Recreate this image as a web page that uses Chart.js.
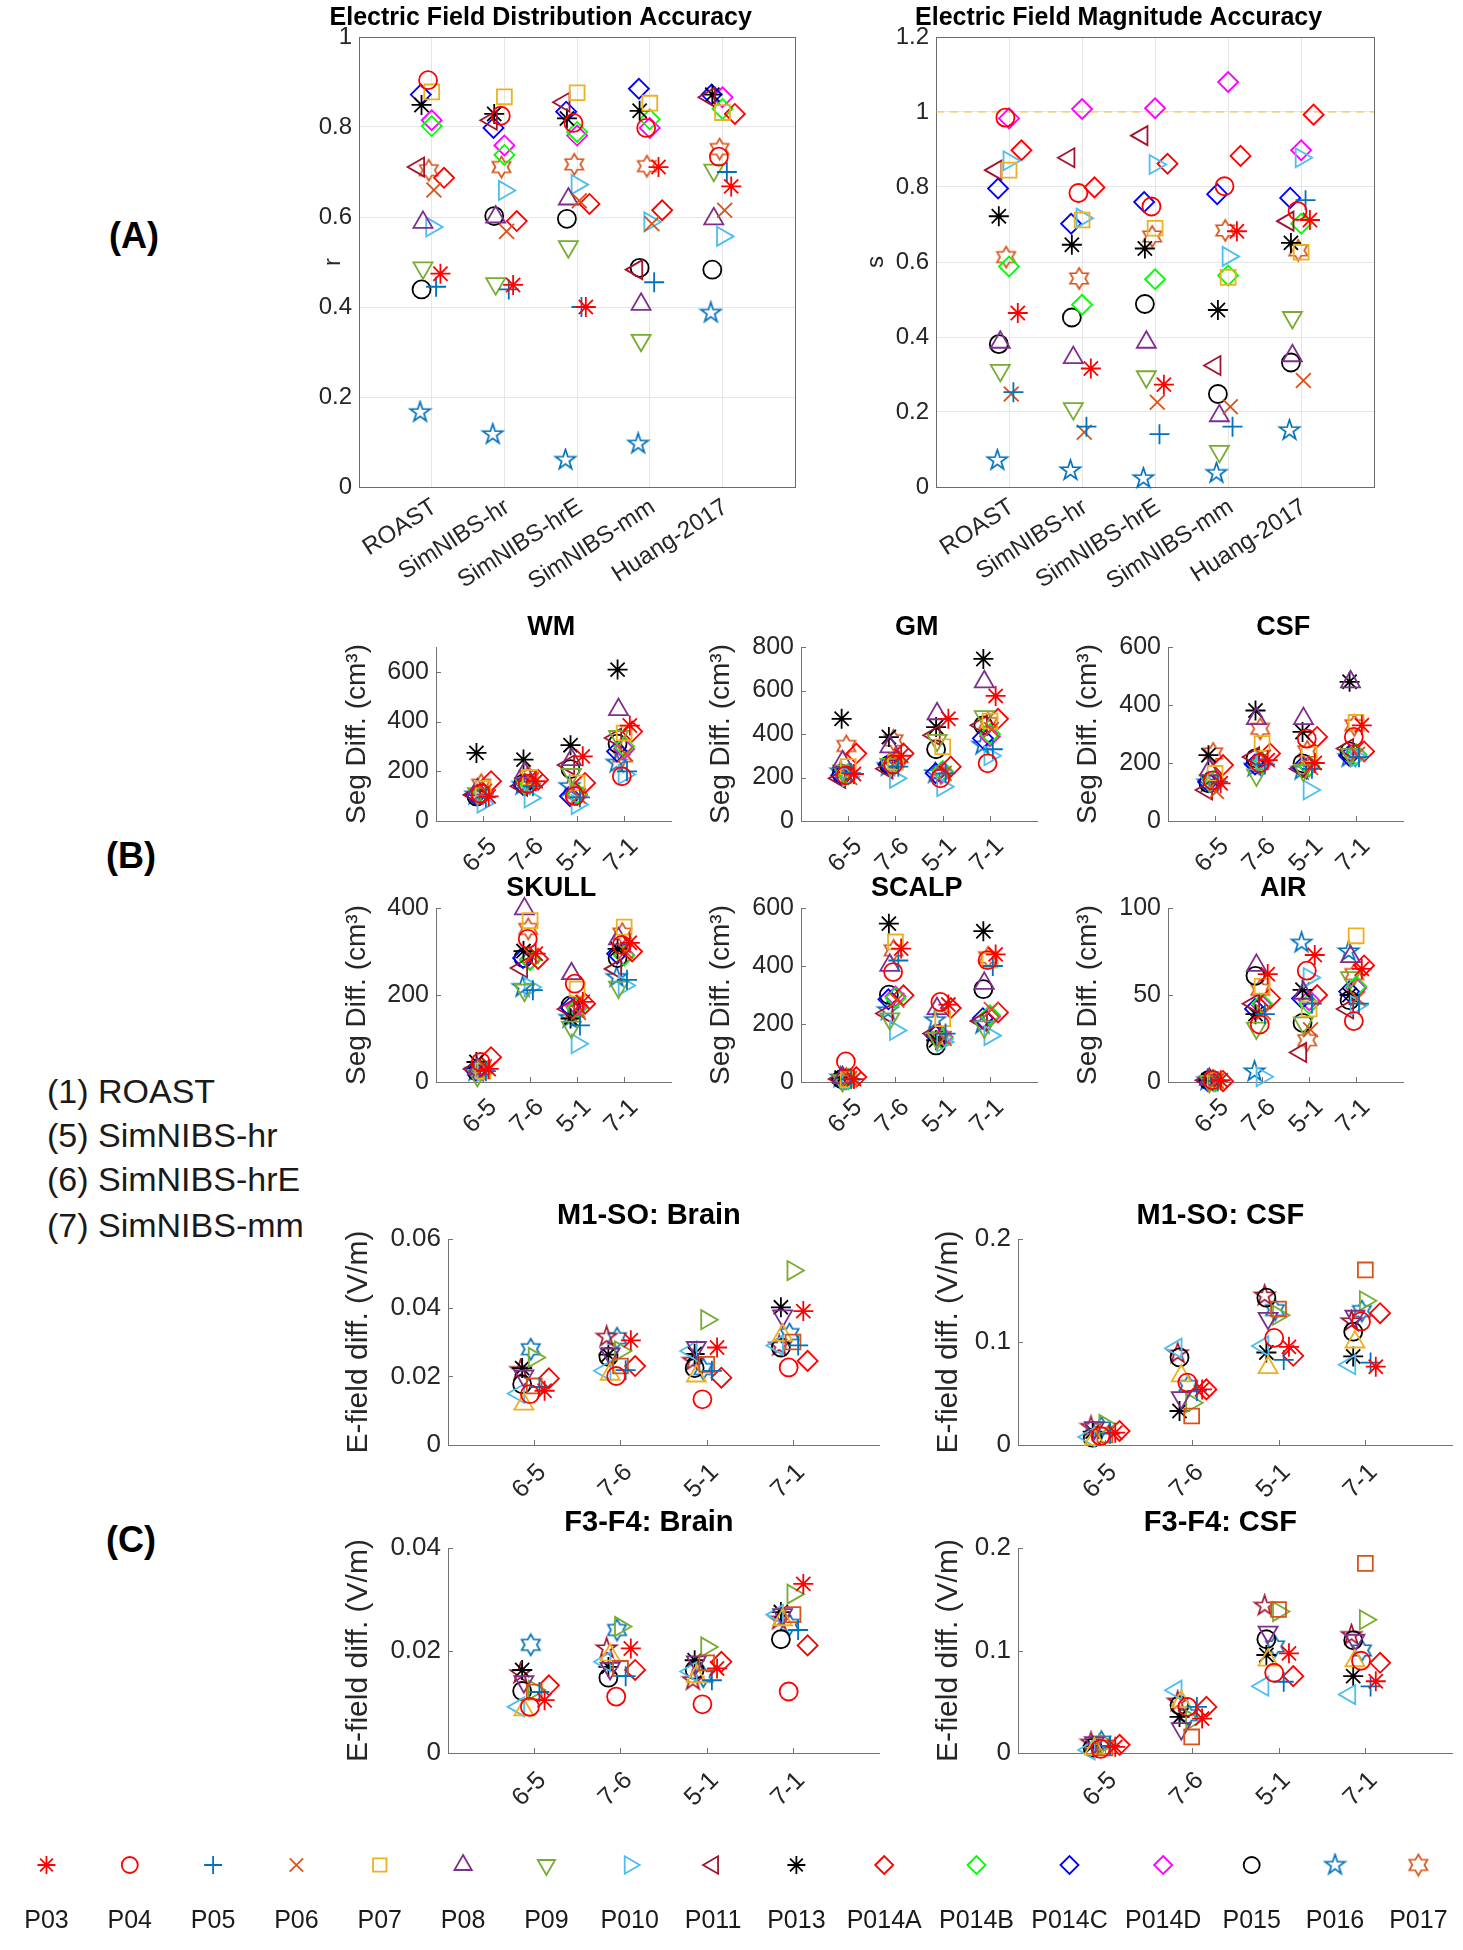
<!DOCTYPE html>
<html>
<head>
<meta charset="utf-8">
<script src="https://cdn.jsdelivr.net/npm/chart.js@4.4.0/dist/chart.umd.min.js"></script>
<style>
html, body { margin: 0; padding: 0; background: #fff; }
body { width: 1463px; height: 1950px; position: relative; overflow: hidden; font-family: 'Liberation Sans', Arial, sans-serif; }
canvas { position: absolute; }
.lbl { position: absolute; color: #000; white-space: nowrap; transform: translate(-50%, -50%); }
.note { position: absolute; color: #1a1a1a; white-space: nowrap; font-size: 34px; transform: translateY(-50%); }
</style>
</head>
<body>
<div class="lbl" style="left:134px;top:236px;font-size:36px;font-weight:bold">(A)</div>
<div class="lbl" style="left:131px;top:856px;font-size:36px;font-weight:bold">(B)</div>
<div class="lbl" style="left:131px;top:1540px;font-size:36px;font-weight:bold">(C)</div>
<div class="note" style="left:47px;top:1091px">(1) ROAST</div>
<div class="note" style="left:47px;top:1135px">(5) SimNIBS-hr</div>
<div class="note" style="left:47px;top:1179px">(6) SimNIBS-hrE</div>
<div class="note" style="left:47px;top:1225px">(7) SimNIBS-mm</div>
<script>
// ---- data ----
const participants = ['P03', 'P04', 'P05', 'P06', 'P07', 'P08', 'P09', 'P010', 'P011', 'P013', 'P014A', 'P014B', 'P014C', 'P014D', 'P015', 'P016', 'P017'];
const toolboxes = ['ROAST', 'SimNIBS-hr', 'SimNIBS-hrE', 'SimNIBS-mm', 'Huang-2017'];
const pairs = ['6-5', '7-6', '5-1', '7-1'];

// (A) correlation r, one row per participant, one value per toolbox
const rValues = [
    [0.474, 0.449, 0.400, 0.711, 0.668],
    [0.904, 0.825, 0.809, 0.798, 0.734],
    [0.445, 0.439, 0.400, 0.455, 0.700],
    [0.660, 0.568, 0.636, 0.585, 0.615],
    [0.878, 0.867, 0.876, 0.853, 0.832],
    [0.588, 0.600, 0.640, 0.406, 0.596],
    [0.487, 0.452, 0.534, 0.326, 0.704],
    [0.578, 0.659, 0.672, 0.589, 0.557],
    [0.711, 0.815, 0.855, 0.483, 0.866],
    [0.849, 0.829, 0.819, 0.836, 0.872],
    [0.687, 0.591, 0.629, 0.615, 0.829],
    [0.802, 0.738, 0.789, 0.817, 0.840],
    [0.872, 0.798, 0.834, 0.885, 0.872],
    [0.815, 0.759, 0.781, 0.798, 0.866],
    [0.439, 0.602, 0.596, 0.487, 0.483],
    [0.166, 0.117, 0.060, 0.096, 0.387],
    [0.704, 0.711, 0.717, 0.713, 0.751]
];
// (A) magnitude s
const sValues = [
    [0.464, 0.316, 0.273, 0.682, 0.712],
    [0.985, 0.784, 0.748, 0.802, 0.736],
    [0.253, 0.161, 0.141, 0.161, 0.765],
    [0.248, 0.146, 0.226, 0.214, 0.284],
    [0.845, 0.712, 0.690, 0.559, 0.626],
    [0.386, 0.345, 0.386, 0.190, 0.350],
    [0.311, 0.209, 0.294, 0.095, 0.452],
    [0.870, 0.717, 0.860, 0.615, 0.878],
    [0.845, 0.878, 0.937, 0.324, 0.709],
    [0.722, 0.646, 0.636, 0.472, 0.651],
    [0.898, 0.799, 0.862, 0.883, 0.993],
    [0.588, 0.486, 0.554, 0.564, 0.702],
    [0.796, 0.702, 0.760, 0.781, 0.771],
    [0.983, 1.008, 1.010, 1.080, 0.898],
    [0.381, 0.452, 0.488, 0.248, 0.332],
    [0.071, 0.044, 0.023, 0.037, 0.151],
    [0.613, 0.556, 0.668, 0.684, 0.631]
];
const rTicks = [0, 0.2, 0.4, 0.6, 0.8, 1];
const sTicks = [0, 0.2, 0.4, 0.6, 0.8, 1, 1.2];
const sReference = 1;

// (B) segmentation differences (cm^3), one row per participant, one value per pair
const wmDiff = [
    [99, 160, 260, 384], [110, 150, 100, 180], [95, 140, 95, 200], [120, 165, 100, 270],
    [130, 175, 153, 354], [126, 193, 247, 448], [110, 150, 187, 340], [72, 93, 66, 187],
    [105, 140, 225, 334], [274, 247, 305, 609], [160, 166, 153, 360], [115, 150, 110, 300],
    [105, 145, 100, 280], [110, 150, 105, 290], [99, 150, 209, 311], [106, 145, 140, 234],
    [146, 180, 113, 260]
];
const gmDiff = [
    [216, 300, 470, 575], [210, 260, 196, 265], [220, 250, 219, 330], [200, 280, 219, 420],
    [250, 270, 341, 460], [272, 341, 493, 640], [230, 260, 371, 480], [204, 196, 158, 300],
    [196, 240, 394, 440], [470, 386, 432, 745], [310, 310, 250, 470], [215, 270, 230, 400],
    [210, 260, 220, 380], [215, 265, 225, 390], [216, 257, 330, 440], [227, 252, 219, 350],
    [345, 371, 219, 450]
];
const csfDiff = [
    [130, 210, 200, 330], [140, 200, 284, 290], [135, 195, 180, 220], [102, 220, 185, 230],
    [164, 267, 230, 340], [176, 353, 353, 480], [140, 159, 175, 230], [135, 204, 107, 220],
    [107, 221, 180, 250], [227, 381, 307, 480], [193, 233, 290, 240], [140, 200, 190, 230],
    [135, 195, 185, 225], [138, 198, 188, 228], [130, 216, 199, 240], [132, 187, 176, 220],
    [233, 318, 240, 330]
];
const skullDiff = [
    [30, 295, 184, 320], [46, 329, 226, 315], [25, 211, 130, 235], [35, 290, 160, 300],
    [25, 371, 214, 356], [30, 398, 249, 329], [15, 211, 126, 218], [25, 218, 88, 222],
    [30, 262, 168, 260], [46, 301, 146, 306], [57, 283, 180, 300], [28, 280, 170, 290],
    [26, 285, 172, 295], [27, 282, 175, 292], [25, 285, 176, 285], [25, 218, 147, 241],
    [35, 352, 162, 341]
];
const scalpDiff = [
    [10, 460, 267, 440], [71, 379, 276, 420], [10, 419, 167, 400], [12, 282, 150, 250],
    [8, 483, 218, 420], [15, 402, 253, 340], [5, 218, 150, 190], [5, 178, 138, 160],
    [10, 236, 167, 210], [15, 546, 144, 520], [17, 299, 255, 240], [10, 290, 150, 230],
    [10, 285, 160, 220], [10, 295, 155, 225], [10, 301, 126, 320], [15, 247, 213, 200],
    [12, 454, 155, 430]
];
const airDiff = [
    [1, 62, 73, 65], [1, 33, 64, 35], [0.5, 39, 45, 45], [0.5, 40, 30, 48],
    [1, 55, 42, 84], [1.5, 67, 51, 72], [0.3, 31, 34, 60], [0.5, 3, 60, 44],
    [1, 45, 17, 42], [1, 39, 53, 50], [0.5, 48, 50, 67], [0.5, 45, 45, 55],
    [0.5, 42, 48, 52], [0.5, 44, 47, 54], [1, 61, 34, 47], [1, 6, 80, 75],
    [1, 53, 24, 62]
];
const wmTicks = [0, 200, 400, 600];
const gmTicks = [0, 200, 400, 600, 800];
const csfTicks = [0, 200, 400, 600];
const skullTicks = [0, 200, 400];
const scalpTicks = [0, 200, 400, 600];
const airTicks = [0, 50, 100];

// (C) E-field differences (V/m)
const cParticipants = ['P03', 'P04', 'P05', 'P07', 'P08', 'P09', 'P010', 'P011', 'P013', 'P014', 'P015', 'P016', 'P017'];
const m1BrainDiff = [
    [0.0158, 0.0305, 0.0284, 0.039], [0.0148, 0.0201, 0.0133, 0.0226], [0.0169, 0.0218, 0.0216, 0.029],
    [0.0172, 0.023, 0.0235, 0.030], [0.0119, 0.0206, 0.0201, 0.032], [0.0201, 0.0265, 0.0284, 0.0376],
    [0.0255, 0.0274, 0.0365, 0.0508], [0.015, 0.0216, 0.0274, 0.029], [0.0224, 0.0263, 0.0265, 0.0401],
    [0.0194, 0.023, 0.0196, 0.0245], [0.0177, 0.0257, 0.0224, 0.0284], [0.0218, 0.0315, 0.0245, 0.0289],
    [0.0279, 0.0311, 0.0221, 0.0323]
];
const m1CsfDiff = [
    [0.012, 0.054, 0.0953, 0.076], [0.0087, 0.0606, 0.104, 0.12], [0.011, 0.0525, 0.0826, 0.08],
    [0.0097, 0.0282, 0.132, 0.17], [0.0055, 0.0671, 0.0752, 0.10], [0.0169, 0.046, 0.123, 0.125],
    [0.020, 0.0411, 0.126, 0.14], [0.0078, 0.094, 0.0962, 0.078], [0.013, 0.033, 0.0898, 0.086],
    [0.0136, 0.054, 0.0866, 0.128], [0.0071, 0.085, 0.143, 0.11], [0.0175, 0.0888, 0.145, 0.12],
    [0.0169, 0.0573, 0.131, 0.13]
];
const f3BrainDiff = [
    [0.0103, 0.0204, 0.0165, 0.033], [0.009, 0.011, 0.0095, 0.012], [0.0119, 0.015, 0.0142, 0.024],
    [0.0119, 0.0165, 0.0176, 0.027], [0.0084, 0.0191, 0.0149, 0.026], [0.0139, 0.0165, 0.0178, 0.027],
    [0.0123, 0.0247, 0.0207, 0.031], [0.009, 0.0178, 0.0159, 0.027], [0.0162, 0.0168, 0.0181, 0.0275],
    [0.0132, 0.0162, 0.0178, 0.021], [0.0121, 0.0147, 0.0162, 0.0222], [0.0155, 0.0204, 0.0142, 0.026],
    [0.0211, 0.024, 0.0149, 0.025]
];
const f3CsfDiff = [
    [0.006, 0.0336, 0.0972, 0.07], [0.004, 0.045, 0.0783, 0.09], [0.007, 0.045, 0.0695, 0.065],
    [0.005, 0.0157, 0.14, 0.185], [0.004, 0.05, 0.0907, 0.09], [0.010, 0.0238, 0.118, 0.11],
    [0.009, 0.032, 0.138, 0.13], [0.003, 0.0613, 0.0652, 0.057], [0.007, 0.0352, 0.0956, 0.075],
    [0.008, 0.045, 0.075, 0.088], [0.005, 0.0467, 0.111, 0.11], [0.010, 0.05, 0.1436, 0.115],
    [0.011, 0.0369, 0.104, 0.10]
];
const brainTicksM1 = [0, 0.02, 0.04, 0.06];
const brainTicksF3 = [0, 0.02, 0.04];
const csfTicksC = [0, 0.1, 0.2];

// ---- styles ----
const FONT = "'Liberation Sans', Arial, sans-serif";
Chart.defaults.font.family = FONT;
Chart.defaults.color = '#262626';

const BLUE = '#0072BD', ORANGE = '#D95319', YELLOW = '#EDB120', PURPLE = '#7E2F8E',
    GREEN = '#77AC30', CYAN = '#4DBEEE', MAROON = '#A2142F';

const legendMarkers = {
    P03: ['asterisk', '#FF0000'], P04: ['circle', '#FF0000'], P05: ['plus', BLUE], P06: ['x', ORANGE],
    P07: ['square', YELLOW], P08: ['up', PURPLE], P09: ['down', GREEN], P010: ['right', CYAN],
    P011: ['left', MAROON], P013: ['asterisk', '#000000'], P014A: ['diamond', '#FF0000'],
    P014B: ['diamond', '#00FF00'], P014C: ['diamond', '#0000FF'], P014D: ['diamond', '#FF00FF'],
    P015: ['circle', '#000000'], P016: ['pentagram', BLUE], P017: ['hexagram', ORANGE]
};
const cMarkers = {
    P03: ['asterisk', '#FF0000'], P04: ['circle', '#FF0000'], P05: ['plus', BLUE], P07: ['square', ORANGE],
    P08: ['up', YELLOW], P09: ['down', PURPLE], P010: ['right', GREEN], P011: ['left', CYAN],
    P013: ['asterisk', '#000000'], P014: ['diamond', '#FF0000'], P015: ['circle', '#000000'],
    P016: ['pentagram', MAROON], P017: ['hexagram', BLUE]
};
// horizontal spread of each participant around the category
const jitter = {
    P03: 0.12, P04: -0.05, P05: 0.06, P06: 0.03, P07: 0, P08: -0.12, P09: -0.12, P010: 0,
    P011: -0.18, P013: -0.14, P014A: 0.17, P014B: 0, P014C: -0.15, P014D: 0, P014: 0.17,
    P015: -0.14, P016: -0.16, P017: -0.04
};

const shapes = {
    asterisk: { pointStyle: 'star', radius: 10 },
    circle: { pointStyle: 'circle', radius: 9 },
    plus: { pointStyle: 'cross', radius: 10 },
    x: { pointStyle: 'crossRot', radius: 10.5 },
    square: { pointStyle: 'rect', radius: 10.5 },
    up: { pointStyle: 'triangle', radius: 11, rotation: 0 },
    down: { pointStyle: 'triangle', radius: 11, rotation: 180 },
    right: { pointStyle: 'triangle', radius: 11, rotation: 90 },
    left: { pointStyle: 'triangle', radius: 11, rotation: 270 },
    diamond: { pointStyle: 'rectRot', radius: 10 }
};

function starImage(points, inner, R, color) {
    const size = Math.ceil(2 * R + 4);
    const cv = document.createElement('canvas');
    cv.width = size; cv.height = size;
    const g = cv.getContext('2d');
    g.strokeStyle = color;
    g.lineWidth = 1.7;
    g.beginPath();
    for (let k = 0; k < 2 * points; k++) {
        const rr = k % 2 ? R * inner : R;
        const a = -Math.PI / 2 + k * Math.PI / points;
        const px = size / 2 + rr * Math.cos(a), py = size / 2 + rr * Math.sin(a);
        if (k === 0) g.moveTo(px, py); else g.lineTo(px, py);
    }
    g.closePath();
    g.stroke();
    return cv;
}

function markerStyle(shape, color) {
    if (shape === 'pentagram') return { pointStyle: starImage(5, 0.382, 10.5, color), radius: 10, rotation: 0 };
    if (shape === 'hexagram') return { pointStyle: starImage(6, 0.577, 10.5, color), radius: 10, rotation: 0 };
    const s = shapes[shape];
    return { pointStyle: s.pointStyle, radius: s.radius, rotation: s.rotation || 0 };
}

function buildSeries(names, values, markers) {
    return names.map((name, p) => {
        const m = markers[name];
        const st = markerStyle(m[0], m[1]);
        return {
            label: name,
            data: values[p].map((v, c) => ({ x: c + 1 + jitter[name], y: v })),
            pointStyle: st.pointStyle,
            pointRotation: st.rotation,
            pointRadius: st.radius,
            pointHoverRadius: st.radius,
            pointBorderColor: m[1],
            pointBackgroundColor: 'rgba(0,0,0,0)',
            pointBorderWidth: 1.8,
            borderColor: m[1],
            showLine: false,
            clip: false
        };
    });
}

// ---- plugins ----
const panelTitle = {
    id: 'panelTitle',
    afterDraw(chart, args, o) {
        if (!o.text) return;
        const ctx = chart.ctx;
        ctx.save();
        ctx.font = 'bold ' + o.size + 'px ' + FONT;
        ctx.fillStyle = '#000';
        ctx.textAlign = 'center';
        ctx.textBaseline = 'middle';
        ctx.fillText(o.text, chart.scales.x.getPixelForValue(o.x), chart.chartArea.top - o.dy);
        ctx.restore();
    }
};
const axesFrame = {
    id: 'axesFrame',
    beforeDatasetsDraw(chart, args, o) {
        const a = chart.chartArea, ctx = chart.ctx;
        ctx.save();
        if (o.box) {
            ctx.strokeStyle = o.color;
            ctx.lineWidth = 1;
            ctx.strokeRect(Math.round(a.left) + 0.5, Math.round(a.top) + 0.5,
                Math.round(a.right - a.left), Math.round(a.bottom - a.top));
        }
        if (o.tickLen) {
            const x = chart.scales.x, y = chart.scales.y;
            ctx.strokeStyle = o.color;
            ctx.lineWidth = 1;
            ctx.beginPath();
            x.ticks.forEach(t => {
                const px = Math.round(x.getPixelForValue(t.value)) + 0.5;
                ctx.moveTo(px, a.bottom); ctx.lineTo(px, a.bottom - o.tickLen);
            });
            y.ticks.forEach(t => {
                const py = Math.round(y.getPixelForValue(t.value)) + 0.5;
                ctx.moveTo(a.left, py); ctx.lineTo(a.left + o.tickLen, py);
            });
            ctx.stroke();
        }
        ctx.restore();
    }
};

// ---- panels ----
function makePanel(cfg) {
    const lh = cfg.ylabelSize * 1.2;
    const left = cfg.canvasLeft !== undefined ? cfg.canvasLeft : Math.round(cfg.ylabelX - lh / 2);
    const titleShift = Math.max(0, cfg.ylabelX - lh / 2 - left);
    const top = cfg.canvasTop;
    const right = cfg.box.r + 12;
    const bottom = cfg.box.b + cfg.bottomSpace;
    const cv = document.createElement('canvas');
    cv.width = right - left;
    cv.height = bottom - top;
    cv.style.left = left + 'px';
    cv.style.top = top + 'px';
    document.body.appendChild(cv);
    const ml = cfg.box.l - left, mt = cfg.box.t - top, mb = cfg.bottomSpace;
    const cats = cfg.cats;

    new Chart(cv, {
        type: 'scatter',
        data: { datasets: cfg.datasets },
        options: {
            responsive: false,
            animation: false,
            events: [],
            layout: { padding: { left: 0, top: mt, right: 12, bottom: 0 } },
            plugins: {
                legend: { display: false },
                tooltip: { enabled: false },
                panelTitle: { text: cfg.title, x: cfg.titleX, dy: cfg.titleDy, size: cfg.titleSize },
                axesFrame: { box: cfg.grid, tickLen: cfg.grid ? 0 : 5, color: cfg.axisColor }
            },
            scales: {
                x: {
                    type: 'linear',
                    min: 0,
                    max: cfg.xMax,
                    afterBuildTicks: s => { s.ticks = cats.map((c, i) => ({ value: i + 1 })); },
                    afterFit: s => { s.height = mb; s.paddingLeft = 0; s.paddingRight = 0; },
                    ticks: {
                        autoSkip: false,
                        minRotation: cfg.xRotation,
                        maxRotation: cfg.xRotation,
                        padding: cfg.xPad,
                        labelOffset: cfg.xShift || 0,
                        color: '#262626',
                        font: { size: cfg.xFont },
                        callback: v => cats[Math.round(v) - 1] || ''
                    },
                    grid: { display: cfg.grid, drawTicks: false, color: '#e6e6e6', lineWidth: 1 },
                    border: { display: true, color: cfg.axisColor, width: 1 }
                },
                y: {
                    min: 0,
                    max: cfg.yMax,
                    afterBuildTicks: s => { s.ticks = cfg.yTicks.map(v => ({ value: v })); },
                    afterFit: s => { s.width = ml; s.paddingTop = 0; s.paddingBottom = 0; },
                    ticks: {
                        autoSkip: false,
                        padding: 7,
                        color: '#262626',
                        font: { size: cfg.yFont },
                        callback: v => String(v)
                    },
                    grid: { display: cfg.grid, drawTicks: false, color: '#e6e6e6', lineWidth: 1 },
                    border: { display: true, color: cfg.axisColor, width: 1 },
                    title: {
                        display: true,
                        text: cfg.ylabel,
                        color: '#262626',
                        padding: { top: titleShift, bottom: 0 },
                        font: { size: cfg.ylabelSize }
                    }
                }
            }
        },
        plugins: [axesFrame, panelTitle]
    });
}

// (A)
const aCommon = {
    cats: toolboxes, xMax: 6, grid: true, axisColor: '#6b6b6b', canvasTop: 0, bottomSpace: 125,
    xRotation: 33, xPad: 6, xShift: 3, xFont: 24, yFont: 24, ylabelSize: 24, titleX: 2.5, titleDy: 19, titleSize: 25
};
makePanel(Object.assign({}, aCommon, {
    box: { l: 359, t: 37, r: 796, b: 487 }, canvasLeft: 285, ylabelX: 333,
    title: 'Electric Field Distribution Accuracy', ylabel: 'r', yMax: 1, yTicks: rTicks,
    datasets: buildSeries(participants, rValues, legendMarkers)
}));
const sDatasets = buildSeries(participants, sValues, legendMarkers);
sDatasets.push({
    type: 'line',
    label: 'reference',
    data: [{ x: 0, y: sReference }, { x: 6, y: sReference }],
    borderColor: 'rgba(237,177,32,0.55)',
    borderDash: [8, 6],
    borderWidth: 1.5,
    pointRadius: 0,
    order: 1
});
makePanel(Object.assign({}, aCommon, {
    box: { l: 936, t: 37, r: 1375, b: 487 }, ylabelX: 876,
    title: 'Electric Field Magnitude Accuracy', ylabel: 's', yMax: 1.2, yTicks: sTicks,
    datasets: sDatasets
}));

// (B)
const bCommon = {
    cats: pairs, xMax: 5, grid: false, axisColor: '#737373', bottomSpace: 62,
    xRotation: 45, xPad: 11, xShift: 10, xFont: 25, yFont: 25, ylabelSize: 28, titleX: 2.45, titleDy: 19, titleSize: 27,
    ylabel: 'Seg Diff. (cm³)'
};
const bPanels = [
    { title: 'WM', values: wmDiff, yTicks: wmTicks, yMax: 700, l: 436, r: 672, row: 0, ylabelX: 357 },
    { title: 'GM', values: gmDiff, yTicks: gmTicks, yMax: 800, l: 801, r: 1038, row: 0, ylabelX: 721 },
    { title: 'CSF', values: csfDiff, yTicks: csfTicks, yMax: 600, l: 1168, r: 1404, row: 0, ylabelX: 1088 },
    { title: 'SKULL', values: skullDiff, yTicks: skullTicks, yMax: 400, l: 436, r: 672, row: 1, ylabelX: 357 },
    { title: 'SCALP', values: scalpDiff, yTicks: scalpTicks, yMax: 600, l: 801, r: 1038, row: 1, ylabelX: 721 },
    { title: 'AIR', values: airDiff, yTicks: airTicks, yMax: 100, l: 1168, r: 1404, row: 1, ylabelX: 1088 }
];
const bRows = [{ t: 647, b: 821, top: 600 }, { t: 908, b: 1082, top: 862 }];
bPanels.forEach(p => {
    const row = bRows[p.row];
    makePanel(Object.assign({}, bCommon, {
        box: { l: p.l, t: row.t, r: p.r, b: row.b }, canvasTop: row.top, ylabelX: p.ylabelX,
        title: p.title, yMax: p.yMax, yTicks: p.yTicks,
        datasets: buildSeries(participants, p.values, legendMarkers)
    }));
});

// (C)
const cCommon = {
    cats: pairs, xMax: 5, grid: false, axisColor: '#737373', bottomSpace: 62,
    xRotation: 45, xPad: 13, xShift: 8, xFont: 25, yFont: 26, ylabelSize: 30, titleX: 2.33, titleSize: 29,
    ylabel: 'E-field diff. (V/m)'
};
const cPanels = [
    { title: 'M1-SO: Brain', values: m1BrainDiff, yTicks: brainTicksM1, yMax: 0.06, l: 448, r: 880, row: 0, ylabelX: 359 },
    { title: 'M1-SO: CSF', values: m1CsfDiff, yTicks: csfTicksC, yMax: 0.2, l: 1018, r: 1453, row: 0, ylabelX: 949 },
    { title: 'F3-F4: Brain', values: f3BrainDiff, yTicks: brainTicksF3, yMax: 0.04, l: 448, r: 880, row: 1, ylabelX: 359 },
    { title: 'F3-F4: CSF', values: f3CsfDiff, yTicks: csfTicksC, yMax: 0.2, l: 1018, r: 1453, row: 1, ylabelX: 949 }
];
const cRows = [{ t: 1239, b: 1445, top: 1190, dy: 23 }, { t: 1548, b: 1753, top: 1497, dy: 25 }];
cPanels.forEach(p => {
    const row = cRows[p.row];
    makePanel(Object.assign({}, cCommon, {
        box: { l: p.l, t: row.t, r: p.r, b: row.b }, canvasTop: row.top, ylabelX: p.ylabelX,
        title: p.title, titleDy: row.dy, yMax: p.yMax, yTicks: p.yTicks,
        datasets: buildSeries(cParticipants, p.values, cMarkers)
    }));
});

// legend row: each entry gets a slot sized by its label, like a horizontal legend
(function () {
    const legendFont = 25;
    const meas = document.createElement('canvas').getContext('2d');
    meas.font = legendFont + 'px ' + FONT;
    const slots = participants.map(n => Math.max(84, meas.measureText(n).width + 18));
    const centers = [];
    let acc = 0;
    slots.forEach(w => { centers.push(acc + w / 2); acc += w; });
    const total = acc;

    const cv = document.createElement('canvas');
    const shiftLeft = 7;
    cv.width = Math.ceil(total) + 20; cv.height = 120;
    cv.style.left = (-shiftLeft) + 'px'; cv.style.top = '1830px';
    document.body.appendChild(cv);
    const datasets = participants.map((name, i) => {
        const m = legendMarkers[name];
        const st = markerStyle(m[0], m[1]);
        return {
            label: name,
            data: [{ x: centers[i], y: 0 }],
            pointStyle: st.pointStyle,
            pointRotation: st.rotation,
            pointRadius: st.radius - 1,
            pointBorderColor: m[1],
            pointBackgroundColor: 'rgba(0,0,0,0)',
            pointBorderWidth: 1.8,
            clip: false
        };
    });
    new Chart(cv, {
        type: 'scatter',
        data: { datasets },
        options: {
            responsive: false,
            animation: false,
            events: [],
            layout: { padding: { left: 0, right: cv.width - total, top: 20, bottom: 0 } },
            plugins: { legend: { display: false }, tooltip: { enabled: false } },
            scales: {
                x: {
                    type: 'linear', min: 0, max: total,
                    afterBuildTicks: s => { s.ticks = centers.map(v => ({ value: v })); },
                    afterFit: s => { s.height = 70; s.paddingLeft = 0; s.paddingRight = 0; },
                    ticks: {
                        autoSkip: false, maxRotation: 0, minRotation: 0, padding: 26,
                        color: '#1a1a1a', font: { size: legendFont },
                        callback: (v, i) => participants[i] || ''
                    },
                    grid: { display: false, drawTicks: false },
                    border: { display: false }
                },
                y: { display: false, min: -1, max: 1 }
            }
        }
    });
})();
</script>
</body>
</html>
